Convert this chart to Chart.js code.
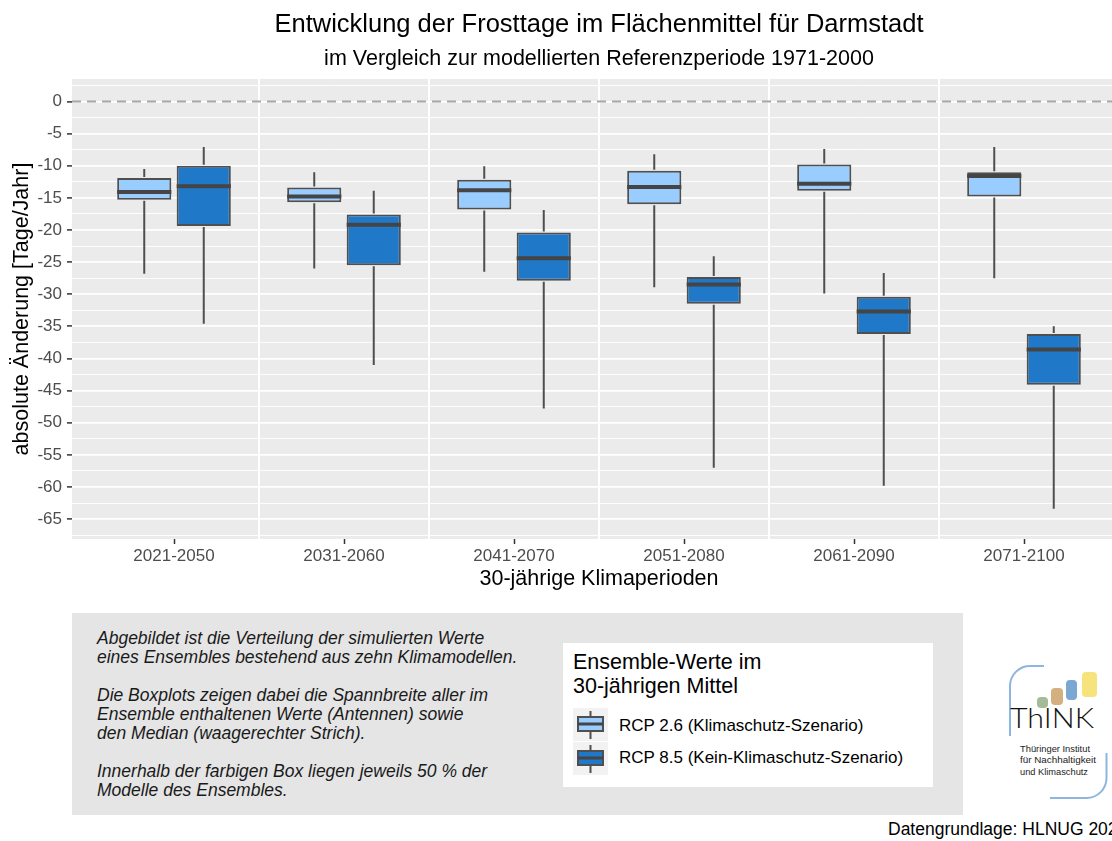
<!DOCTYPE html>
<html lang="de">
<head>
<meta charset="utf-8">
<title>Frosttage Darmstadt</title>
<script src="https://cdn.jsdelivr.net/npm/chart.js@4.4.1/dist/chart.umd.min.js"></script>
<style>
  html, body { margin: 0; padding: 0; background: #ffffff; width: 1112px; height: 841px; overflow: hidden; }
  body { position: relative; font-family: 'Liberation Sans', Arial, sans-serif; color: #000; }
  #wrap { position: absolute; left: 0; top: 0; width: 1140px; height: 600px; }
  #noteBox { position: absolute; left: 72px; top: 613px; width: 891px; height: 202px; background: #E5E5E5; }
  #noteText { position: absolute; left: 97px; top: 629.4px; font-style: italic; font-size: 17.5px; line-height: 19px; color: #1a1a1a; white-space: nowrap; }
  #legendBox { position: absolute; left: 563px; top: 643px; width: 370px; height: 144px; background: #ffffff; }
  #legendTitle { position: absolute; left: 573px; top: 651.4px; font-size: 21.5px; line-height: 23.7px; white-space: nowrap; }
  .lgKey { position: absolute; left: 573px; width: 35px; height: 33px; }
  .lgLabel { position: absolute; left: 619px; font-size: 17px; line-height: 17px; white-space: nowrap; }
  #logo { position: absolute; left: 996px; top: 660px; }
  #source { position: absolute; left: 888px; top: 820.6px; font-size: 17.5px; line-height: 17px; white-space: nowrap; }
</style>
</head>
<body>
<div id="wrap"><canvas id="chart" width="1140" height="600"></canvas></div>

<div id="noteBox"></div>
<div id="noteText">Abgebildet ist die Verteilung der simulierten Werte<br>eines Ensembles bestehend aus zehn Klimamodellen.<br><br>Die Boxplots zeigen dabei die Spannbreite aller im<br>Ensemble enthaltenen Werte (Antennen) sowie<br>den Median (waagerechter Strich).<br><br>Innerhalb der farbigen Box liegen jeweils 50 % der<br>Modelle des Ensembles.</div>

<div id="legendBox"></div>
<div id="legendTitle">Ensemble-Werte im<br>30-jährigen Mittel</div>
<div id="legendItems"></div>

<svg id="logo" width="116" height="145" viewBox="0 0 116 145">
  <path d="M 48 6 L 34 6 A 20 20 0 0 0 14 26 L 14 76" fill="none" stroke="#8DB6DE" stroke-width="2"/>
  <path d="M 110.5 93 L 110.5 118 A 20 20 0 0 1 90.5 138 L 54 138" fill="none" stroke="#8DB6DE" stroke-width="2"/>
  <rect x="41" y="37" width="11" height="11" rx="4" fill="#A3BC97"/>
  <rect x="55" y="28" width="12" height="17" rx="4" fill="#D4AF7F"/>
  <rect x="70" y="20" width="11" height="20" rx="4" fill="#7AA8D3"/>
  <rect x="86" y="12" width="15" height="25" rx="4" fill="#F7E37B"/>
  <text x="14" y="68" font-family="Lato, 'Liberation Sans', sans-serif" font-weight="300" font-size="28" textLength="84" lengthAdjust="spacingAndGlyphs" fill="#111">ThINK</text>
  <text x="24" y="91.7" font-family="'Liberation Sans', Arial, sans-serif" font-size="9.5" textLength="70" lengthAdjust="spacingAndGlyphs" fill="#222">Thüringer Institut</text>
  <text x="24" y="103.3" font-family="'Liberation Sans', Arial, sans-serif" font-size="9.5" textLength="76" lengthAdjust="spacingAndGlyphs" fill="#222">für Nachhaltigkeit</text>
  <text x="24" y="115" font-family="'Liberation Sans', Arial, sans-serif" font-size="9.5" textLength="68" lengthAdjust="spacingAndGlyphs" fill="#222">und Klimaschutz</text>
</svg>

<div id="source">Datengrundlage: HLNUG 202</div>

<script>
// ---------- data ----------
const periods = ['2021-2050', '2031-2060', '2041-2070', '2051-2080', '2061-2090', '2071-2100'];
const seriesNames = ['RCP 2.6 (Klimaschutz-Szenario)', 'RCP 8.5 (Kein-Klimaschutz-Szenario)'];

// RCP 2.6
const rcp26Min    = [-26.8, -26.0, -26.5, -28.9, -29.9, -27.5];
const rcp26Q1     = [-15.3, -15.7, -16.8, -16.0, -13.9, -14.8];
const rcp26Median = [-14.1, -14.8, -13.8, -13.3, -12.8, -11.6];
const rcp26Q3     = [-11.9, -13.4, -12.2, -10.8, -9.8, -11.0];
const rcp26Max    = [-10.5, -11.0, -10.1, -8.2, -7.4, -7.1];

// RCP 8.5
const rcp85Min    = [-34.6, -41.0, -47.8, -57.0, -59.8, -63.4];
const rcp85Q1     = [-19.4, -25.5, -27.9, -31.5, -36.2, -44.1];
const rcp85Median = [-13.2, -19.2, -24.4, -28.5, -32.7, -38.6];
const rcp85Q3     = [-10.0, -17.6, -20.4, -27.3, -30.4, -36.2];
const rcp85Max    = [-7.1, -13.9, -16.9, -24.1, -26.7, -35.0];

// axis ticks
const yMajorTicks = [0, -5, -10, -15, -20, -25, -30, -35, -40, -45, -50, -55, -60, -65];
const yMinorTicks = [2.5, -2.5, -7.5, -12.5, -17.5, -22.5, -27.5, -32.5, -37.5, -42.5, -47.5, -52.5, -57.5, -62.5, -67.5];
const yRange = [-68.1, 3.5];
const xRange = [-0.6, 5.6];

// ---------- styles ----------
const fillColors = ['#99CCFF', '#1F78C8'];
const lineColor = '#4F4F4F';
const FONT = "'Liberation Sans', Arial, sans-serif";

Chart.defaults.font.family = FONT;
Chart.defaults.color = '#000';

function boxData(q1, q3) {
  return periods.map((p, i) => ({ x: i, y: [q1[i], q3[i]] }));
}

const stats = [
  { min: rcp26Min, med: rcp26Median, max: rcp26Max, q1: rcp26Q1, q3: rcp26Q3 },
  { min: rcp85Min, med: rcp85Median, max: rcp85Max, q1: rcp85Q1, q3: rcp85Q3 }
];

const boxPlugin = {
  id: 'boxExtras',
  beforeDraw(chart) {
    const { ctx, chartArea: a } = chart;
    ctx.save();
    ctx.fillStyle = '#EBEBEB';
    ctx.fillRect(a.left, a.top, a.right - a.left, a.bottom - a.top);
    ctx.restore();
  },
  beforeDatasetsDraw(chart) {
    const { ctx, chartArea: a, scales } = chart;
    const xs = scales.x, ys = scales.y;
    ctx.save();
    ctx.beginPath();
    ctx.rect(a.left, a.top, a.right - a.left, a.bottom - a.top);
    ctx.clip();
    // separators between periods
    ctx.strokeStyle = '#FFFFFF';
    ctx.lineWidth = 2;
    for (let i = 0; i < periods.length - 1; i++) {
      const px = xs.getPixelForValue(i + 0.5);
      ctx.beginPath();
      ctx.moveTo(px, a.top);
      ctx.lineTo(px, a.bottom);
      ctx.stroke();
    }
    // dashed zero line
    const py = ys.getPixelForValue(0);
    ctx.strokeStyle = '#A6A6A6';
    ctx.lineWidth = 2;
    ctx.setLineDash([9, 6]);
    ctx.beginPath();
    ctx.moveTo(a.left, py);
    ctx.lineTo(a.right, py);
    ctx.stroke();
    ctx.restore();
  },
  afterDatasetsDraw(chart) {
    const { ctx, scales } = chart;
    const ys = scales.y;
    ctx.save();
    chart.data.datasets.forEach((ds, d) => {
      const meta = chart.getDatasetMeta(d);
      const s = stats[d];
      meta.data.forEach((bar, i) => {
        const { x, width } = bar.getProps(['x', 'width'], true);
        const yMax = ys.getPixelForValue(s.max[i]);
        const yQ3 = ys.getPixelForValue(s.q3[i]);
        const yQ1 = ys.getPixelForValue(s.q1[i]);
        const yMin = ys.getPixelForValue(s.min[i]);
        const yMed = ys.getPixelForValue(s.med[i]);
        ctx.strokeStyle = lineColor;
        ctx.lineWidth = 2;
        ctx.beginPath();
        ctx.moveTo(x, yMax); ctx.lineTo(x, yQ3 - 1);
        ctx.moveTo(x, yQ1 + 1); ctx.lineTo(x, yMin);
        ctx.stroke();
        ctx.strokeStyle = '#454545';
        ctx.lineWidth = 4;
        ctx.beginPath();
        ctx.moveTo(x - width / 2, yMed);
        ctx.lineTo(x + width / 2, yMed);
        ctx.stroke();
      });
    });
    ctx.restore();
  }
};

const chart = new Chart(document.getElementById('chart'), {
  type: 'bar',
  data: {
    datasets: [
      { label: seriesNames[0], data: boxData(rcp26Q1, rcp26Q3), backgroundColor: fillColors[0],
        borderColor: lineColor, borderWidth: 2, borderSkipped: false },
      { label: seriesNames[1], data: boxData(rcp85Q1, rcp85Q3), backgroundColor: fillColors[1],
        borderColor: lineColor, borderWidth: 2, borderSkipped: false }
    ]
  },
  options: {
    responsive: false,
    animation: false,
    devicePixelRatio: 1,
    categoryPercentage: 0.70,
    barPercentage: 0.91,
    layout: { padding: { left: 0, right: 14, top: 0, bottom: 0 } },
    plugins: {
      legend: { display: false },
      tooltip: { enabled: false },
      title: {
        display: true, fullSize: false,
        text: 'Entwicklung der Frosttage im Flächenmittel für Darmstadt',
        color: '#000', font: { size: 25.5, weight: 'normal', family: FONT },
        padding: { top: 9.5, bottom: 3 }
      },
      subtitle: {
        display: true, fullSize: false,
        text: 'im Vergleich zur modellierten Referenzperiode 1971-2000',
        color: '#000', font: { size: 21.5, weight: 'normal', family: FONT },
        padding: { top: 3.5, bottom: 6.6 }
      }
    },
    scales: {
      x: {
        type: 'linear', offset: false,
        min: xRange[0], max: xRange[1],
        afterBuildTicks: s => { s.ticks = periods.map((p, i) => ({ value: i })); },
        afterFit: s => { s.height = 61; },
        ticks: {
          callback: v => (periods[v] !== undefined ? periods[v] : ''),
          color: '#4D4D4D', font: { size: 17 }, padding: 2.5, maxRotation: 0, autoSkip: false
        },
        grid: { offset: false, drawOnChartArea: false, drawTicks: true, tickLength: 5, tickColor: '#333333', tickWidth: 1.5 },
        border: { display: false },
        title: { display: true, text: '30-jährige Klimaperioden', color: '#000', font: { size: 21.5 }, padding: { top: 0, bottom: 8.5 } }
      },
      y: {
        min: yRange[0], max: yRange[1],
        afterBuildTicks: s => {
          s.ticks = yMinorTicks.concat(yMajorTicks).sort((a, b) => b - a).map(v => ({ value: v }));
        },
        afterFit: s => { s.width = 72; },
        ticks: {
          callback: v => (yMajorTicks.includes(v) ? String(v) : ''),
          color: '#4D4D4D', font: { size: 17 }, padding: 5, autoSkip: false
        },
        grid: {
          color: '#FFFFFF',
          lineWidth: c => (yMajorTicks.includes(c.tick.value) ? 1.8 : 0.9),
          tickColor: c => (yMajorTicks.includes(c.tick.value) ? '#333333' : 'rgba(0,0,0,0)'),
          tickLength: 5, tickWidth: 1.5
        },
        border: { display: false },
        title: { display: true, text: 'absolute Änderung [Tage/Jahr]', color: '#000', font: { size: 21.5 }, padding: { top: 9, bottom: 0 } }
      }
    }
  },
  plugins: [boxPlugin]
});

// ---------- HTML legend built from the dataset labels ----------
const legendTops = [707.7, 741.5];
const labelTops = [717.3, 748.9];
const itemsDiv = document.getElementById('legendItems');
chart.data.datasets.forEach((ds, i) => {
  const key = document.createElement('div');
  key.className = 'lgKey';
  key.style.top = legendTops[i] + 'px';
  key.innerHTML =
    '<svg width="35" height="33" viewBox="0 0 35 33">' +
    '<rect x="0" y="0" width="35" height="33" fill="#F2F2F2"/>' +
    '<line x1="17.5" y1="3" x2="17.5" y2="9" stroke="' + lineColor + '" stroke-width="2"/>' +
    '<line x1="17.5" y1="23" x2="17.5" y2="31" stroke="' + lineColor + '" stroke-width="2"/>' +
    '<rect x="5" y="9" width="25" height="14" fill="' + ds.backgroundColor + '" stroke="' + lineColor + '" stroke-width="2"/>' +
    '<line x1="5" y1="16" x2="30" y2="16" stroke="#454545" stroke-width="3"/>' +
    '</svg>';
  itemsDiv.appendChild(key);
  const lab = document.createElement('div');
  lab.className = 'lgLabel';
  lab.style.top = labelTops[i] + 'px';
  lab.textContent = ds.label;
  itemsDiv.appendChild(lab);
});
</script>
</body>
</html>
